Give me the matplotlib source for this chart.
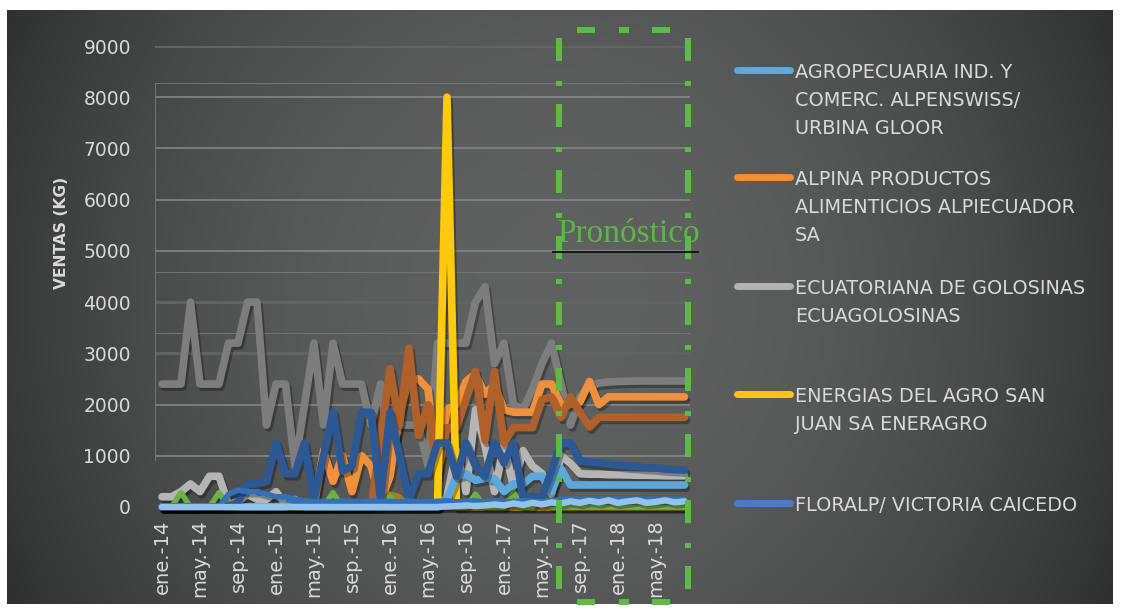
import numpy as np
import matplotlib
matplotlib.use("Agg")
import matplotlib.pyplot as plt
from matplotlib import patheffects as pe
from matplotlib.lines import Line2D
from matplotlib.transforms import blended_transform_factory

plt.rcParams['font.family'] = ['DejaVu Sans']
plt.rcParams['lines.scale_dashes'] = False

# ---------------- data ----------------
tick_labels = ["ene.-14", "may.-14", "sep.-14", "ene.-15", "may.-15", "sep.-15",
               "ene.-16", "may.-16", "sep.-16", "ene.-17", "may.-17", "sep.-17",
               "ene.-18", "may.-18"]

gris_oscuro = [2400, 2400, 2400, 4000, 2400, 2400, 2400, 3200, 3200, 4000,
               4000, 1600, 2400, 2400, 800, 2000, 3200, 1600, 3200, 2400,
               2400, 2400, 1600, 2400, 1000, 1600, 1600, 1600, 800, 3200,
               3200, 3200, 3200, 4000, 4300, 2800, 3200, 2000, 1900, 2300,
               2800, 3200, 2400, 1600, 2150, 2350, 2420, 2440, 2450, 2455,
               2460, 2460, 2460, 2460, 2460, 2460]

gris_claro = [200, 200, 300, 450, 300, 600, 600, 50, 100, 250,
              150, 150, 300, 50, 0, 0, 0, 0, 0, 0,
              0, 0, 0, 0, 0, 0, 0, 0, 0, 0,
              200, 1100, 300, 1900, 1200, 300, 1200, 400, 1100, 800,
              650, 250, 1000, 850, 650, 640, 640, 630, 630, 625,
              620, 620, 615, 610, 610, 610]

naranja = [0, 0, 0, 0, 0, 0, 0, 0, 0, 0,
           0, 0, 0, 0, 0, 0, 0, 1100, 500, 1000,
           300, 1000, 800, 100, 600, 1800, 2500, 2500, 2300, 700,
           1900, 2000, 2450, 2600, 2200, 2400, 1900, 1850, 1850, 1850,
           2400, 2400, 2000, 2000, 2050, 2450, 2000, 2150, 2150, 2150,
           2150, 2150, 2150, 2150, 2150, 2150]

naranja_oscuro = [0, 0, 0, 0, 0, 0, 0, 0, 0, 0,
                  0, 0, 0, 0, 0, 0, 0, 0, 0, 0,
                  0, 0, 0, 1300, 2700, 1600, 3100, 1400, 2000, 600,
                  1550, 1550, 2100, 2650, 1300, 2650, 1250, 1550, 1550, 1550,
                  2100, 2150, 1750, 2150, 1850, 1560, 1750, 1750, 1750, 1750,
                  1750, 1750, 1750, 1750, 1750, 1750]

amarillo = [0, 0, 0, 0, 0, 0, 0, 0, 0, 0,
            0, 0, 0, 0, 0, 0, 0, 0, 0, 0,
            0, 0, 0, 0, 0, 0, 0, 0, 0, 0,
            8000, 0, 0, 0, 0, 0, 0, 0, 0, 0,
            0, 0, 0, 0, 0, 0, 0, 0, 0, 0,
            0, 0, 0, 0, 0, 0]

verde = [0, 0, 280, 0, 0, 0, 280, 0, 0, 0,
         0, 0, 0, 0, 0, 0, 0, 0, 280, 0,
         0, 0, 0, 0, 200, 0, 0, 0, 0, 0,
         200, 0, 0, 250, 0, 0, 0, 280, 0, 0,
         250, 0, 0, 0, 0, 0, 0, 0, 0, 0,
         0, 0, 0, 0, 0, 0]

oliva = [0, 0, 0, 0, 0, 0, 0, 0, 0, 0,
         0, 0, 0, 0, 0, 0, 0, 0, 0, 0,
         0, 0, 0, 150, 250, 200, 0, 0, 0, 0,
         0, 0, 0, 0, 0, 0, 0, 0, 0, 0,
         0, 0, 0, 0, 0, 0, 0, 0, 0, 0,
         0, 0, 0, 0, 0, 0]

azul_claro = [0, 0, 0, 0, 0, 0, 0, 0, 0, 0,
              0, 0, 0, 0, 150, 0, 0, 0, 0, 0,
              0, 0, 0, 0, 0, 0, 0, 0, 0, 0,
              150, 600, 650, 520, 560, 550, 300, 450, 450, 600,
              600, 300, 750, 430, 430, 430, 430, 430, 430, 430,
              430, 430, 430, 430, 430, 430]

azul_oscuro = [0, 0, 0, 0, 0, 0, 0, 0, 100, 450,
               450, 500, 1250, 650, 650, 1250, 150, 1000, 1850, 700,
               800, 1850, 1850, 150, 1850, 1000, 150, 650, 650, 1250,
               1250, 600, 1250, 800, 600, 1250, 860, 1250, 200, 200,
               200, 700, 1250, 1250, 900, 880, 860, 840, 820, 800,
               790, 770, 760, 740, 730, 720]

azul_medio = [0, 0, 0, 0, 0, 0, 0, 250, 330, 300,
              300, 250, 200, 200, 150, 120, 100, 110, 100, 120,
              100, 100, 120, 100, 110, 100, 120, 100, 100, 110,
              120, 100, 110, 120, 100, 130, 110, 100, 120, 110,
              100, 120, 150, 150, 150, 150, 150, 150, 150, 150,
              150, 150, 150, 150, 150, 150]

celeste = [0, 0, 0, 0, 0, 0, 0, 0, 0, 0,
           0, 0, 0, 0, 0, 0, 0, 0, 0, 0,
           0, 0, 0, 0, 0, 0, 0, 0, 0, 0,
           10, 20, 30, 20, 30, 50, 30, 70, 40, 80,
           50, 90, 70, 110, 80, 120, 90, 130, 80, 110,
           130, 80, 100, 130, 90, 110]

legend_names = ["AGROPECUARIA IND. Y\nCOMERC. ALPENSWISS/\nURBINA GLOOR",
                "ALPINA PRODUCTOS\nALIMENTICIOS ALPIECUADOR\nSA",
                "ECUATORIANA DE GOLOSINAS\nECUAGOLOSINAS",
                "ENERGIAS DEL AGRO SAN\nJUAN SA ENERAGRO",
                "FLORALP/ VICTORIA CAICEDO"]
legend_colors = ['#5fa9de', '#f28e38', '#b3b3b3', '#ffc412', '#4a7cc5']

# ---------------- layout ----------------
W, H, DPI = 1121, 612, 100
def fx(px): return px / W
def fy(py): return 1 - py / H

fig = plt.figure(figsize=(W / DPI, H / DPI), dpi=DPI, facecolor='white')

# background panel with soft radial gradient
bg = fig.add_axes([fx(7), fy(604), fx(1113) - fx(7), fy(10) - fy(604)])
yy, xx = np.mgrid[10:604, 7:1113]
r2 = ((xx - 560) / 555.0) ** 2 + ((yy - 300) / 600.0) ** 2
b = 96 - 40 * np.clip(r2, 0, 1.25)
img = np.dstack([b, b + 1, b + 1]) / 255.0
bg.imshow(img, aspect='auto', interpolation='bilinear')
bg.axis('off')
bg.set_zorder(-10)

px_month = 9.5
x0_px = 162
ax_left, ax_right, ax_bottom, ax_top = 155, 690, 507, 46
ax = fig.add_axes([fx(ax_left), fy(ax_bottom), (ax_right - ax_left) / W, (ax_bottom - ax_top) / H])
ax.patch.set_alpha(0)
ax.set_xlim(-(x0_px - ax_left) / px_month, (ax_right - x0_px) / px_month)
ax.set_ylim(0, 9000)
for s in ax.spines.values():
    s.set_visible(False)

x = np.arange(len(gris_oscuro))

# gridlines
for v in range(1000, 9001, 1000):
    if v in (3000, 4000, 9000):
        ax.axhline(v, color='#626363', lw=2.2, zorder=1)
    else:
        ax.axhline(v, color='#8a8a8a', lw=1.1, zorder=1)
for v in (8281, 4590, 3398):
    ax.axhline(v, color='#757575', lw=0.7, zorder=1)
ax.axvline(ax.get_xlim()[0], ymin=(507 - 460) / 461, ymax=(507 - 83) / 461, color='#727272', lw=0.8)
ax.axvline(ax.get_xlim()[1], ymin=0, ymax=(507 - 87) / 461, color='#727272', lw=0.8)

ax.set_yticks(range(0, 9001, 1000))
ax.set_yticklabels([str(v) for v in range(0, 9001, 1000)])
ax.set_xticks(range(0, 56, 4))
ax.set_xticklabels(tick_labels, rotation=90)
ax.tick_params(axis='y', length=0, pad=17.3, labelsize=13.5, labelcolor='#d9d9d9')
ax.tick_params(axis='x', length=0, pad=9.0, labelsize=14, labelcolor='#d9d9d9')

shadow = [pe.SimpleLineShadow(offset=(1.5, -2.2), shadow_color='black', alpha=0.3), pe.Normal()]

series = [
    (gris_oscuro, '#7d7d7d', 5.5),
    (gris_claro, '#b5b5b5', 5.5),
    (naranja, '#f0903c', 5.5),
    (naranja_oscuro, '#b0612b', 5.5),
    (amarillo, '#ffc90e', 5.5),
    (oliva, '#a27e22', 4.0),
    (verde, '#6eb046', 4.0),
    (azul_claro, '#5da7dc', 5.5),
    (azul_oscuro, '#2c5894', 5.5),
    (azul_medio, '#3470b5', 4.0),
    (celeste, '#94c2ea', 4.6),
]
for i, (vals, col, lw) in enumerate(series):
    ax.plot(x, vals, color=col, lw=lw, solid_capstyle='round', solid_joinstyle='round',
            clip_on=False, zorder=3 + i, path_effects=shadow)

# y label
fig.text(fx(62), fy(233), 'VENTAS (KG)', rotation=90, fontweight='bold', fontsize=11.2,
         color='#d9d9d9', ha='center', va='center')

# legend (manual)
legend_y = [70, 177, 286, 394, 503]
for name, col, yh in zip(legend_names, legend_colors, legend_y):
    fig.add_artist(Line2D([fx(737), fx(790)], [fy(yh), fy(yh)], color=col, lw=5,
                          solid_capstyle='round', transform=fig.transFigure))
    for k, line in enumerate(name.split('\n')):
        fig.text(fx(795), fy(yh + 1 + 28 * k + 6.7), line, fontsize=13.9, color='#d9d9d9',
                 ha='left', va='baseline')

# forecast box
forecast_box = (41.8, 55.4)
tr = blended_transform_factory(ax.transData, fig.transFigure)
green = '#5cbb45'
k = 0.72  # px -> pt
vdash = (53 * k, (23 * k, 18 * k, 5 * k, 20 * k))
hdash = (57 * k, (18 * k, 24 * k, 10 * k, 23 * k))
for xb in forecast_box:
    fig.add_artist(Line2D([xb, xb], [fy(602), fy(30)], color=green, lw=6 * k,
                          linestyle=vdash, dash_capstyle='butt', transform=tr))
for yb in (30, 602):
    fig.add_artist(Line2D([forecast_box[0], forecast_box[1]], [fy(yb), fy(yb)], color=green, lw=6 * k,
                          linestyle=hdash, dash_capstyle='butt', transform=tr))

fig.text(fx(557), fy(242), 'Pronóstico', family='Liberation Serif', fontsize=24,
         color='#5cb646', ha='left', va='baseline')
fig.add_artist(Line2D([fx(553), fx(698)], [fy(252), fy(252)], color='#151515', lw=1.4,
                      transform=fig.transFigure))

fig.savefig('out.png', dpi=DPI, facecolor='white')
